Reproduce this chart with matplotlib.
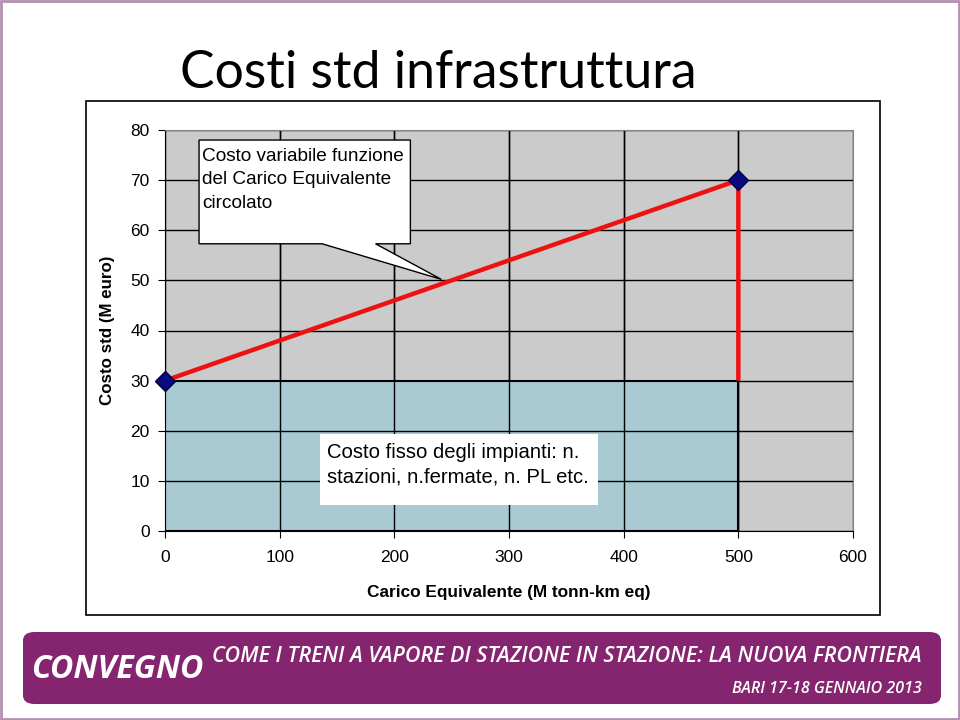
import matplotlib
matplotlib.use("Agg")
import matplotlib.pyplot as plt
from matplotlib.patches import Rectangle, Polygon, FancyBboxPatch

# ---- data ----
x_fixed = [0, 500]
fixed_cost = 30
var_x = [0, 500, 500]
var_y = [30, 70, 30]
marker_x = [0, 500]
marker_y = [30, 70]
xticks = [0, 100, 200, 300, 400, 500, 600]
yticks = [0, 10, 20, 30, 40, 50, 60, 70, 80]

title = "Costi std infrastruttura"
xlabel = "Carico Equivalente (M tonn-km eq)"
ylabel = "Costo std (M euro)"
callout_text = "Costo variabile funzione\ndel Carico Equivalente\ncircolato"
fixed_text = "Costo fisso degli impianti: n.\nstazioni, n.fermate, n. PL etc."
footer_main = "COME I TRENI A VAPORE DI STAZIONE IN STAZIONE: LA NUOVA FRONTIERA"
footer_sub = "BARI 17-18 GENNAIO 2013"
footer_logo = "CONVEGNO"

W, H = 960, 720
fig = plt.figure(figsize=(9.6, 7.2), dpi=100)
fig.patch.set_facecolor("white")

def fx(px): return px / W
def fy(py): return 1 - py / H

ARIAL = ["Liberation Sans", "DejaVu Sans"]

# slide border
fig.patches.append(Rectangle((0.001, 0.001), 0.998, 0.998, transform=fig.transFigure,
                             fill=False, edgecolor="#b48fb0", linewidth=2))
# chart frame
fig.patches.append(Rectangle((fx(86), fy(615)), fx(880) - fx(86), fy(101) - fy(615),
                             transform=fig.transFigure, fill=False, edgecolor="black", linewidth=1.2))

ax = fig.add_axes([fx(165), fy(531), fx(853) - fx(165), fy(130) - fy(531)])
ax.set_facecolor("#cbcbcb")
ax.set_xlim(0, 600)
ax.set_ylim(0, 80)
ax.set_xticks(xticks)
ax.set_yticks(yticks)
ax.grid(True, color="black", linewidth=1.0)
ax.set_axisbelow(True)
for s in ["top", "right"]:
    ax.spines[s].set_color("#888888")
ax.spines["left"].set_color("black")
ax.spines["bottom"].set_color("black")

ax.set_xticklabels([str(t) for t in xticks], family=ARIAL, size=12.5)
ax.set_yticklabels([str(t) for t in yticks], family=ARIAL, size=12.5)
ax.tick_params(axis="both", length=5, color="black")
ax.tick_params(axis="x", pad=9)
ax.tick_params(axis="y", pad=6)

# fixed cost rectangle
ax.add_patch(Rectangle((x_fixed[0], 0), x_fixed[1] - x_fixed[0], fixed_cost,
                       facecolor="#a9cad3", edgecolor="black", linewidth=1.5, zorder=2))
for t in xticks[1:-1]:
    ax.plot([t, t], [0, 80], color="black", linewidth=1.0, zorder=2.1)
for t in yticks[1:3]:
    ax.plot([0, 500], [t, t], color="black", linewidth=1.0, zorder=2.1)

ax.plot(var_x, var_y, color="#ee1111", linewidth=3.2, zorder=3, solid_capstyle="butt")
ax.plot(marker_x, marker_y, linestyle="none", marker="D", markersize=10,
        markerfacecolor="#0a0a80", markeredgecolor="#000040", zorder=4, clip_on=False)

# callout (layout constants in data coords)
bx0, bx1, by0, by1 = 29.7, 214.0, 57.3, 78.0
px0, px1 = 137.0, 183.6
tip = (241.0, 50.2)
ax.add_patch(Polygon([(bx0, by0), (bx0, by1), (bx1, by1), (bx1, by0), (px1, by0), tip, (px0, by0)],
                     closed=True, facecolor="white", edgecolor="black", linewidth=1.0, zorder=5))
ax.text(bx0 + 2.5, by1 - 1.5, callout_text, ha="left", va="top", fontsize=13.7,
        family=ARIAL, linespacing=1.52, zorder=6)

# fixed cost text box
ax.add_patch(Rectangle((135.5, 5.2), 242.0, 14.2, facecolor="white", edgecolor="none", zorder=5))
ax.text(141, 17.5, fixed_text, ha="left", va="top", fontsize=14.6,
        family=ARIAL, linespacing=1.38, zorder=6)

ax.set_xlabel(xlabel, fontsize=12.4, fontweight="bold", family=ARIAL, labelpad=8)
ax.set_ylabel(ylabel, fontsize=12.2, fontweight="bold", family=ARIAL)
ax.yaxis.set_label_coords((115 - 165) / (853 - 165), (531 - 330) / (531 - 130))
ax.xaxis.set_label_coords(0.5, (531 - 585) / (531 - 130))

# title
fig.text(fx(180), fy(88), title, ha="left", va="baseline", fontsize=37.3,
         family=["Lato", "DejaVu Sans"])

# footer banner
banner = FancyBboxPatch((fx(23), fy(704)), fx(941) - fx(23), fy(632) - fy(704),
                        boxstyle="round,pad=0,rounding_size=0.012", transform=fig.transFigure,
                        facecolor="#86256f", edgecolor="none")
fig.patches.append(banner)
COND = ["Open Sans", "DejaVu Sans"]
fig.text(fx(117), fy(670), footer_logo, ha="center", va="center", fontsize=23, color="white",
         fontweight="bold", style="italic", stretch="condensed", family=COND)
fig.text(fx(922), fy(657), footer_main, ha="right", va="center", fontsize=15.5, color="white",
         style="italic", stretch="condensed", fontweight="semibold", family=COND)
fig.text(fx(922), fy(689), footer_sub, ha="right", va="center", fontsize=11.5, color="white",
         style="italic", stretch="condensed", fontweight="semibold", family=COND)

fig.savefig("out.png", dpi=100)
